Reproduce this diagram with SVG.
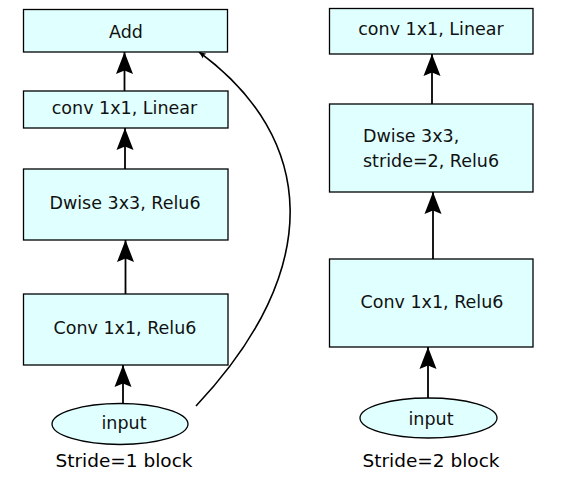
<svg xmlns="http://www.w3.org/2000/svg" width="578" height="488" viewBox="0 0 578 488">
<defs>
<style>
.box{fill:#e0ffff;stroke:#000;stroke-width:1.3}
.t{font-family:"DejaVu Sans",sans-serif;font-size:17.5px;fill:#111;text-anchor:middle}
.tl{font-family:"DejaVu Sans",sans-serif;font-size:17.5px;fill:#111}
.cap{font-family:"DejaVu Sans",sans-serif;font-size:18.5px;fill:#000;text-anchor:middle}
.e{fill:none;stroke:#000;stroke-width:1.8}
.c{fill:none;stroke:#000;stroke-width:1.6}
</style>
<marker id="ah" markerUnits="userSpaceOnUse" markerWidth="24" markerHeight="20" viewBox="-23 -10 24 20" refX="0" refY="0" orient="auto">
<path d="M0,0 L-22,-8.5 L-18.5,0 L-22,8.5 Z" fill="#000"/>
</marker>
<marker id="ahs" markerUnits="userSpaceOnUse" markerWidth="10" markerHeight="8" viewBox="-8 -4 9 8" refX="0" refY="0" orient="auto">
<path d="M0,0 L-7,-3 L-5.5,0 L-7,3 Z" fill="#000"/>
</marker>
</defs>
<rect width="578" height="488" fill="#fff"/>
<g id="connectors">
<line class="e" x1="123" y1="403" x2="123" y2="365" marker-end="url(#ah)"/>
<line class="e" x1="125.5" y1="294" x2="125.5" y2="240" marker-end="url(#ah)"/>
<line class="e" x1="125" y1="169" x2="125" y2="128" marker-end="url(#ah)"/>
<line class="e" x1="124.5" y1="91" x2="124.5" y2="52" marker-end="url(#ah)"/>
<path class="c" d="M196,406 C326,268 316,138 199,52" marker-end="url(#ahs)"/>
<line class="e" x1="428" y1="398" x2="428" y2="347" marker-end="url(#ah)"/>
<line class="e" x1="433" y1="259" x2="433" y2="192" marker-end="url(#ah)"/>
<line class="e" x1="432" y1="104" x2="432" y2="54" marker-end="url(#ah)"/>
</g>
<g id="add">
<rect class="box" x="23.5" y="9.5" width="204" height="42.5"/>
<text class="t" x="126" y="38">Add</text>
</g>
<g id="conv-linear-1">
<rect class="box" x="23.5" y="91" width="204.5" height="37"/>
<text class="t" x="124.5" y="114">conv 1x1, Linear</text>
</g>
<g id="dwise-1">
<rect class="box" x="23.5" y="169" width="204.5" height="71"/>
<text class="t" x="125" y="209">Dwise 3x3, Relu6</text>
</g>
<g id="conv-relu-1">
<rect class="box" x="23.5" y="294" width="204.5" height="71"/>
<text class="t" x="125" y="334">Conv 1x1, Relu6</text>
</g>
<g id="input-1">
<ellipse class="box" cx="120" cy="424" rx="68" ry="20.5"/>
<text class="t" x="124" y="429">input</text>
</g>
<text class="cap" x="124" y="467">Stride=1 block</text>
<g id="conv-linear-2">
<rect class="box" x="329.5" y="8.5" width="203.5" height="45.5"/>
<text class="t" x="431" y="35">conv 1x1, Linear</text>
</g>
<g id="dwise-2">
<rect class="box" x="329.5" y="104" width="203.5" height="88"/>
<text class="tl" x="363" y="142">Dwise 3x3,</text>
<text class="tl" x="363" y="167">stride=2, Relu6</text>
</g>
<g id="conv-relu-2">
<rect class="box" x="329.5" y="259" width="203.5" height="88"/>
<text class="t" x="432" y="308">Conv 1x1, Relu6</text>
</g>
<g id="input-2">
<ellipse class="box" cx="428.5" cy="418" rx="68.5" ry="20"/>
<text class="t" x="431" y="425">input</text>
</g>
<text class="cap" x="431" y="467">Stride=2 block</text>
</svg>
